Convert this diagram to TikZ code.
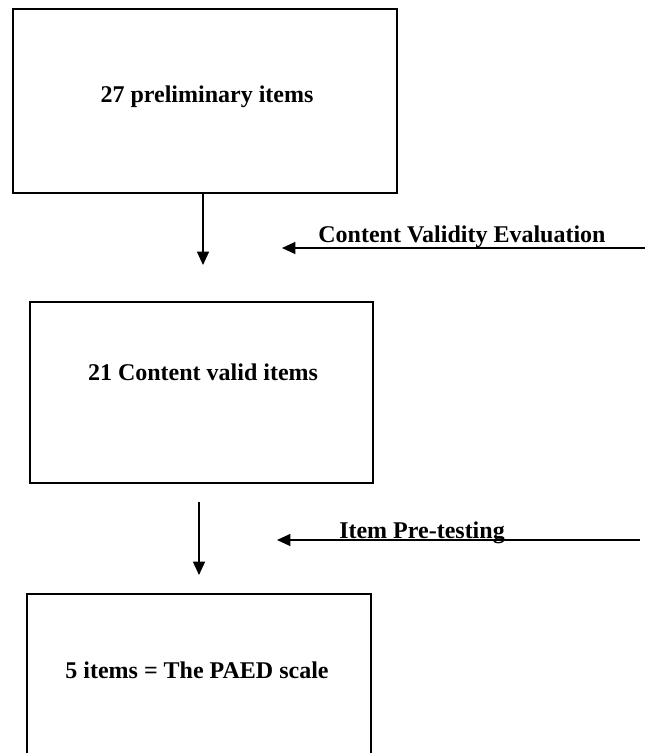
\documentclass[tikz,border=0pt]{standalone}
\usepackage{fontspec}
\setmainfont{Liberation Serif}
\usetikzlibrary{arrows.meta}

\tikzset{every picture/.style={line width=0.9pt}}

\begin{document}
\begin{tikzpicture}[x=0.75pt,y=0.75pt,yscale=-1,xscale=1,
	itembox/.style={draw, rectangle, inner sep=0pt},
	itemtext/.style={font=\bfseries\fontsize{18}{22}\selectfont, inner sep=0pt},
	flow/.style={-{Triangle[length=10pt,width=9pt]}}]
	%set diagram to the size of the page
	\useasboundingbox (0,0) rectangle (648,753);
	\clip (0,0) rectangle (648,753);

	%Shape: Rectangle [id:prelim]
	\node [itembox, minimum width=384*0.75pt, minimum height=184*0.75pt] (prelim) at (205,101) {};
	%Shape: Rectangle [id:valid]
	\node [itembox, minimum width=343*0.75pt, minimum height=181*0.75pt] (valid) at (201.5,392.5) {};
	%Shape: Rectangle [id:paed]
	\node [itembox, minimum width=344*0.75pt, minimum height=180*0.75pt] (paed) at (199,684) {};

	% Text Node
	\node [itemtext] (prelimtext) at (207,97) {27 preliminary items};
	% Text Node
	\node [itemtext] (validtext) at (203,372) {21 Content valid items};
	% Text Node
	\node [itemtext] (paedtext) at (197,670) {5 items = The PAED scale};

	%Straight Lines [id:step1]
	\coordinate (tipA) at (203,265);
	\draw [flow] (prelim.south -| tipA) -- (tipA);
	%Straight Lines [id:step2]
	\coordinate (startB) at (199,502);
	\coordinate (tipB) at (199,575);
	\draw [flow] (startB) -- (tipB);

	%Straight Lines [id:cve]
	\coordinate (cveright) at (645,248);
	\coordinate (cvetip) at (282,248);
	\draw [flow] (cveright) -- (cvetip);
	%Straight Lines [id:pretest]
	\coordinate (pretestright) at (640,540);
	\coordinate (pretesttip) at (277,540);
	\draw [flow] (pretestright) -- (pretesttip);

	% Text Node
	\node [itemtext, anchor=base] (cvelabel) at (462,242) {Content Validity Evaluation};
	% Text Node
	\node [itemtext, anchor=base] (pretestlabel) at (422,538) {Item Pre-testing};

\end{tikzpicture}
\end{document}
